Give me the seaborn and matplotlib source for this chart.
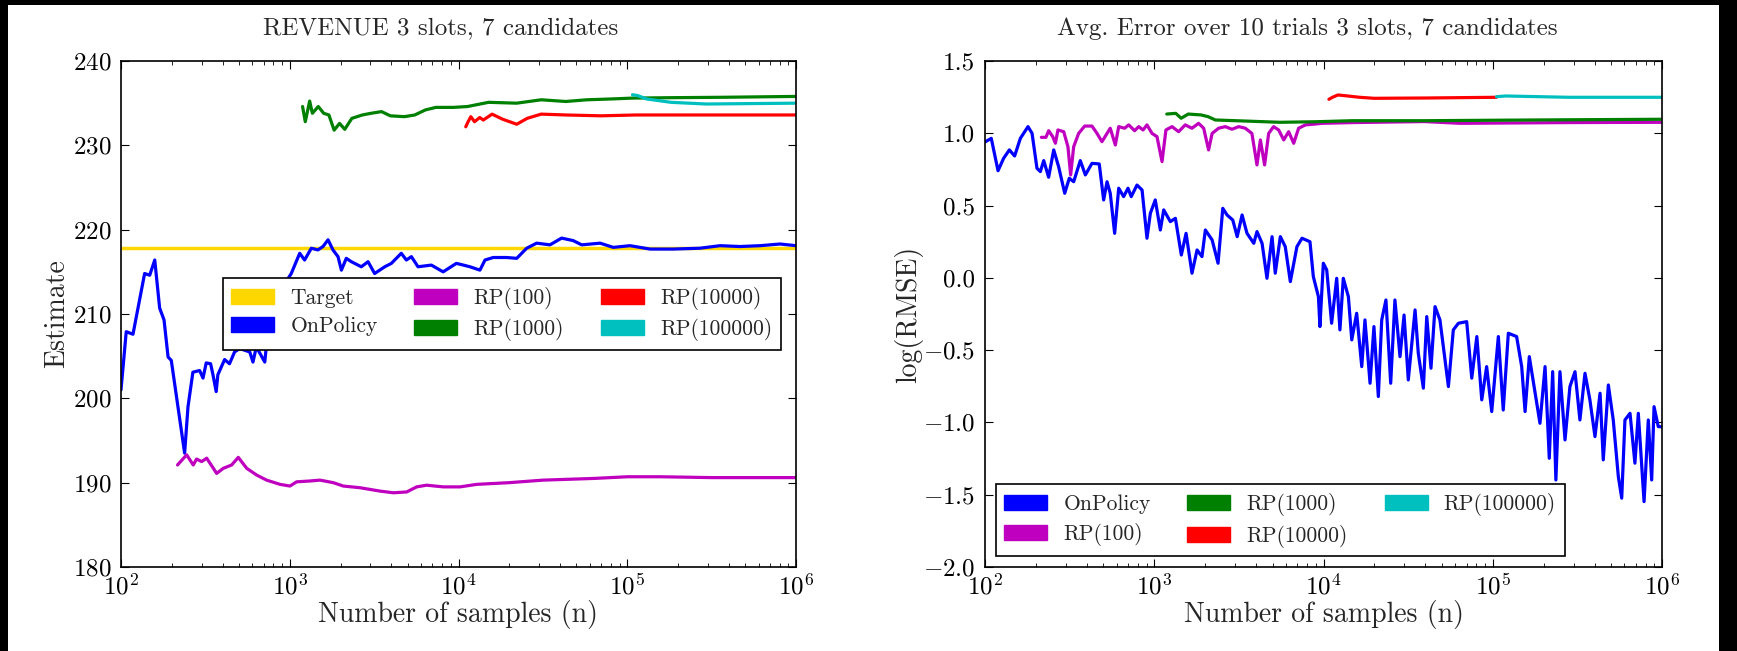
import numpy as np
import pandas as pd
import matplotlib
matplotlib.use("Agg")
import matplotlib.pyplot as plt
import matplotlib.patches as mpatches
import seaborn as sns

# ---- data (x given as log10 of sample count) ----
TARGET_REVENUE = 217.85

rev_onpolicy_logn = [2.000, 2.031, 2.071, 2.140, 2.170, 2.200, 2.229, 2.255, 2.279, 2.298,
                     2.377, 2.397, 2.426, 2.466, 2.486, 2.505, 2.531, 2.545, 2.564, 2.574,
                     2.614, 2.643, 2.673, 2.703, 2.763, 2.782, 2.802, 2.852, 2.861, 2.920,
                     2.990, 3.009, 3.059, 3.088, 3.128, 3.167, 3.197, 3.227, 3.256, 3.286,
                     3.306, 3.335, 3.365, 3.424, 3.464, 3.503, 3.563, 3.602, 3.661, 3.691,
                     3.721, 3.760, 3.839, 3.909, 3.987, 4.009, 4.068, 4.127, 4.157, 4.206,
                     4.285, 4.345, 4.404, 4.463, 4.542, 4.611, 4.680, 4.730, 4.839, 4.917,
                     5.016, 5.135, 5.273, 5.431, 5.550, 5.668, 5.787, 5.905, 6.000]
rev_onpolicy = [201.0, 207.9, 207.6, 214.8, 214.6, 216.4, 210.7, 209.3, 204.9, 204.5,
                193.5, 199.0, 203.1, 203.3, 202.4, 204.2, 204.1, 202.8, 200.8, 202.8,
                204.6, 204.1, 205.5, 205.9, 205.5, 204.3, 206.1, 204.3, 206.1, 210.0,
                214.2, 214.8, 217.2, 216.4, 217.8, 217.6, 218.0, 218.8, 217.6, 216.8,
                215.2, 216.6, 216.2, 215.6, 216.2, 214.8, 215.6, 216.0, 217.2, 216.4,
                216.8, 215.6, 215.8, 215.0, 216.0, 215.9, 215.6, 215.2, 216.4, 216.7,
                216.7, 216.6, 217.8, 218.4, 218.2, 219.0, 218.7, 218.2, 218.4, 217.9,
                218.1, 217.7, 217.7, 217.8, 218.1, 218.0, 218.1, 218.3, 218.1]

rev_rp100_logn = [2.335, 2.389, 2.428, 2.448, 2.478, 2.508, 2.567, 2.606, 2.656, 2.695,
                  2.745, 2.804, 2.863, 2.942, 3.001, 3.041, 3.120, 3.179, 3.258, 3.317,
                  3.416, 3.535, 3.614, 3.693, 3.752, 3.811, 3.910, 4.009, 4.108, 4.300,
                  4.500, 4.800, 5.000, 5.200, 5.500, 6.000]
rev_rp100 = [192.1, 193.3, 192.1, 192.8, 192.5, 192.9, 191.1, 191.7, 192.1, 193.0,
             191.7, 190.9, 190.3, 189.8, 189.6, 190.1, 190.2, 190.3, 190.0, 189.6,
             189.4, 189.0, 188.8, 188.9, 189.5, 189.7, 189.5, 189.5, 189.8, 190.0,
             190.3, 190.5, 190.7, 190.7, 190.6, 190.6]

rev_rp1000_logn = [3.076, 3.092, 3.118, 3.134, 3.169, 3.201, 3.232, 3.263, 3.295, 3.326,
                   3.368, 3.430, 3.482, 3.544, 3.596, 3.679, 3.741, 3.804, 3.866, 3.970,
                   4.053, 4.178, 4.345, 4.490, 4.636, 4.760, 4.906, 5.031, 5.259, 5.571, 6.000]
rev_rp1000 = [234.6, 232.8, 235.25, 233.8, 234.6, 233.8, 233.6, 231.8, 232.6, 231.9,
              233.2, 233.6, 233.8, 234.0, 233.5, 233.4, 233.6, 234.2, 234.5, 234.5,
              234.6, 235.1, 235.0, 235.4, 235.2, 235.4, 235.5, 235.6, 235.65, 235.7, 235.8]

rev_rp10000_logn = [4.043, 4.057, 4.073, 4.095, 4.126, 4.147, 4.199, 4.261, 4.345, 4.407,
                    4.490, 4.636, 4.844, 5.052, 5.468, 6.000]
rev_rp10000 = [232.2, 232.8, 233.4, 232.8, 233.3, 233.0, 233.7, 233.1, 232.5, 233.2,
               233.7, 233.6, 233.5, 233.6, 233.6, 233.6]

rev_rp100000_logn = [5.031, 5.062, 5.114, 5.259, 5.468, 6.000]
rev_rp100000 = [236.0, 235.9, 235.5, 235.1, 234.9, 235.0]

err_onpolicy_logn = [2.000, 2.037, 2.077, 2.110, 2.144, 2.175, 2.209, 2.254, 2.278, 2.307,
                     2.327, 2.347, 2.376, 2.406, 2.435, 2.471, 2.498, 2.524, 2.563, 2.593,
                     2.632, 2.675, 2.701, 2.721, 2.740, 2.766, 2.790, 2.819, 2.845, 2.864,
                     2.898, 2.928, 2.957, 2.977, 3.006, 3.036, 3.056, 3.095, 3.125, 3.160,
                     3.188, 3.223, 3.253, 3.282, 3.302, 3.342, 3.377, 3.405, 3.430, 3.464,
                     3.490, 3.519, 3.548, 3.588, 3.607, 3.637, 3.666, 3.696, 3.715, 3.745,
                     3.774, 3.804, 3.843, 3.873, 3.920, 3.940, 3.970, 3.979, 3.999, 4.019,
                     4.048, 4.078, 4.097, 4.117, 4.147, 4.167, 4.196, 4.226, 4.245, 4.275,
                     4.298, 4.324, 4.344, 4.369, 4.397, 4.422, 4.452, 4.476, 4.501, 4.541,
                     4.560, 4.590, 4.610, 4.635, 4.659, 4.688, 4.738, 4.767, 4.797, 4.846,
                     4.876, 4.906, 4.935, 4.964, 4.994, 5.033, 5.062, 5.092, 5.141, 5.171,
                     5.191, 5.216, 5.279, 5.309, 5.334, 5.354, 5.373, 5.397, 5.427, 5.456,
                     5.486, 5.515, 5.545, 5.574, 5.604, 5.634, 5.653, 5.683, 5.712, 5.742,
                     5.762, 5.781, 5.811, 5.840, 5.860, 5.894, 5.919, 5.939, 5.953, 5.978, 6.000]
err_onpolicy = [0.940, 0.965, 0.741, 0.827, 0.885, 0.843, 0.965, 1.046, 1.000, 0.758,
                0.735, 0.811, 0.696, 0.885, 0.769, 0.585, 0.689, 0.665, 0.811, 0.712,
                0.792, 0.788, 0.539, 0.665, 0.585, 0.308, 0.620, 0.562, 0.620, 0.562,
                0.642, 0.608, 0.274, 0.447, 0.539, 0.331, 0.470, 0.389, 0.412, 0.158,
                0.308, 0.032, 0.193, 0.147, 0.331, 0.262, 0.101, 0.481, 0.435, 0.400,
                0.285, 0.435, 0.308, 0.239, 0.320, 0.239, -0.003, 0.285, 0.032, 0.285,
                0.216, -0.026, 0.216, 0.274, 0.250, 0.008, -0.130, -0.337, 0.101, 0.055,
                -0.314, -0.003, -0.360, -0.003, -0.130, -0.429, -0.245, -0.614, -0.291, -0.729,
                -0.337, -0.821, -0.291, -0.153, -0.729, -0.153, -0.545, -0.257, -0.706, -0.222,
                -0.521, -0.763, -0.268, -0.625, -0.199, -0.291, -0.752, -0.360, -0.314, -0.303,
                -0.694, -0.406, -0.844, -0.614, -0.925, -0.406, -0.914, -0.383, -0.406, -0.614,
                -0.925, -0.545, -1.006, -0.614, -1.248, -0.649, -1.398, -0.649, -1.121, -0.752,
                -0.649, -0.983, -0.660, -0.844, -1.098, -0.798, -1.259, -0.741, -0.983, -1.375,
                -1.524, -0.983, -0.937, -1.282, -0.937, -1.548, -0.983, -1.398, -0.891, -1.029, -1.030]

err_rp100_logn = [2.333, 2.360, 2.376, 2.400, 2.416, 2.431, 2.465, 2.490, 2.506, 2.524,
                  2.553, 2.589, 2.632, 2.662, 2.691, 2.721, 2.740, 2.770, 2.790, 2.825,
                  2.849, 2.884, 2.908, 2.934, 2.957, 2.987, 3.016, 3.046, 3.069, 3.105,
                  3.144, 3.183, 3.223, 3.262, 3.292, 3.321, 3.342, 3.380, 3.420, 3.459,
                  3.499, 3.538, 3.577, 3.607, 3.627, 3.652, 3.676, 3.705, 3.735, 3.765,
                  3.794, 3.824, 3.853, 3.893, 3.952, 3.991, 4.170, 4.596, 4.809, 5.447, 6.000]
err_rp100 = [0.972, 0.972, 1.018, 0.977, 0.931, 1.023, 1.011, 0.907, 0.712, 0.907,
             0.999, 1.050, 1.050, 0.999, 0.942, 0.999, 1.035, 0.919, 1.046, 1.035,
             1.058, 1.018, 1.046, 1.023, 1.058, 0.999, 0.977, 0.804, 1.023, 1.046,
             1.011, 1.058, 1.035, 1.069, 1.035, 0.885, 0.999, 1.035, 1.046, 1.028,
             1.046, 1.035, 0.999, 0.781, 0.954, 0.781, 0.999, 1.046, 1.023, 0.954,
             1.011, 0.931, 1.035, 1.058, 1.064, 1.069, 1.074, 1.081, 1.069, 1.074, 1.076]

err_rp1000_logn = [3.074, 3.127, 3.159, 3.201, 3.276, 3.318, 3.361, 3.531, 3.744, 3.957,
                   4.170, 4.596, 5.234, 6.000]
err_rp1000 = [1.133, 1.138, 1.104, 1.133, 1.127, 1.115, 1.092, 1.085, 1.076, 1.080,
              1.087, 1.087, 1.092, 1.097]

err_rp10000_logn = [4.032, 4.053, 4.085, 4.128, 4.213, 4.298, 4.596, 5.022]
err_rp10000 = [1.235, 1.249, 1.265, 1.260, 1.249, 1.242, 1.244, 1.249]

err_rp100000_logn = [5.022, 5.075, 5.447, 6.000]
err_rp100000 = [1.253, 1.258, 1.249, 1.249]

labels = ["OnPolicy", "RP(100)", "RP(1000)", "RP(10000)", "RP(100000)"]
colors = ["#0000FF", "#BF00BF", "#008000", "#FF0000", "#00BFBF"]
target_color = "#FFD700"

rev_series = [(rev_onpolicy_logn, rev_onpolicy), (rev_rp100_logn, rev_rp100),
              (rev_rp1000_logn, rev_rp1000), (rev_rp10000_logn, rev_rp10000),
              (rev_rp100000_logn, rev_rp100000)]
err_series = [(err_onpolicy_logn, err_onpolicy), (err_rp100_logn, err_rp100),
              (err_rp1000_logn, err_rp1000), (err_rp10000_logn, err_rp10000),
              (err_rp100000_logn, err_rp100000)]

# ---- style ----
sns.set_style("ticks")
plt.rcParams.update({
    "font.family": ["serif"],
    "font.serif": ["cmr10", "DejaVu Serif"],
    "mathtext.fontset": "cm",
    "axes.formatter.use_mathtext": True,
    "axes.unicode_minus": True,
    "xtick.direction": "in",
    "ytick.direction": "in",
    "xtick.top": True,
    "ytick.right": True,
    "xtick.major.size": 6,
    "ytick.major.size": 6,
    "xtick.minor.size": 3,
    "ytick.minor.size": 3,
    "axes.edgecolor": "black",
    "axes.linewidth": 1.2,
    "xtick.color": "black",
    "ytick.color": "black",
    "axes.grid": False,
})

fig = plt.figure(figsize=(17.37, 6.51), dpi=100, facecolor="black")
fig.patches.append(mpatches.Rectangle((8 / 1737, 0), (1719 - 8) / 1737, 646 / 651,
                                      transform=fig.transFigure, facecolor="white",
                                      edgecolor="none", zorder=-10))
ax1 = fig.add_axes([121 / 1737, 84 / 651, 675 / 1737, 506 / 651])
ax2 = fig.add_axes([985 / 1737, 84 / 651, 677 / 1737, 506 / 651])


def draw(ax, series):
    for (logn, vals), lab, col in zip(series, labels, colors):
        df = pd.DataFrame({"n": 10 ** np.array(logn), "v": vals})
        sns.lineplot(data=df, x="n", y="v", ax=ax, color=col, lw=2.3,
                     estimator=None, sort=False, legend=False)


ax1.axhline(TARGET_REVENUE, color=target_color, lw=2.5, zorder=1)
draw(ax1, rev_series)
draw(ax2, err_series)

for ax in (ax1, ax2):
    ax.set_xscale("log")
    ax.set_xlim(1e2, 1e6)
    ax.tick_params(axis="both", which="major", labelsize=18)
    ax.tick_params(axis="x", which="major", pad=5)
    ax.tick_params(axis="y", which="major", pad=7)
    ax.set_xlabel("Number of samples (n)", fontsize=20, labelpad=0)

ax1.set_ylim(180, 240)
ax1.set_yticks(np.arange(180, 241, 10))
ax1.set_ylabel("Estimate", fontsize=20, labelpad=2)
ax1.set_title("REVENUE 3 slots, 7 candidates", fontsize=18, pad=19, x=0.474)

ax2.set_ylim(-2.0, 1.5)
ax2.set_yticks(np.arange(-2.0, 1.51, 0.5))
ax2.yaxis.set_major_formatter(matplotlib.ticker.FuncFormatter(
    lambda v, p: ("$-$" if v < -1e-9 else "") + f"{abs(v):.1f}"))
ax2.set_ylabel("log(RMSE)", fontsize=20, labelpad=0)
ax2.set_title("Avg. Error over 10 trials 3 slots, 7 candidates", fontsize=18, pad=19,
              x=0.476)

leg_kw = dict(ncol=3, fontsize=15.5, fancybox=False, framealpha=1, edgecolor="black",
              handlelength=2.0, columnspacing=1.7, borderpad=0.4, labelspacing=0.4,
              handletextpad=0.75)

h1 = [mpatches.Patch(color=target_color, label="Target")] + \
     [mpatches.Patch(color=c, label=l) for c, l in zip(colors, labels)]
leg1 = ax1.legend(handles=h1, loc="center", bbox_to_anchor=(0.564, 0.5), **leg_kw)
leg1.get_frame().set_linewidth(1.2)

h2 = [mpatches.Patch(color=c, label=l) for c, l in zip(colors, labels)]
leg2 = ax2.legend(handles=h2, loc="lower left", **leg_kw)
leg2.get_frame().set_linewidth(1.2)

fig.savefig("out.png", dpi=100, facecolor=fig.get_facecolor())
